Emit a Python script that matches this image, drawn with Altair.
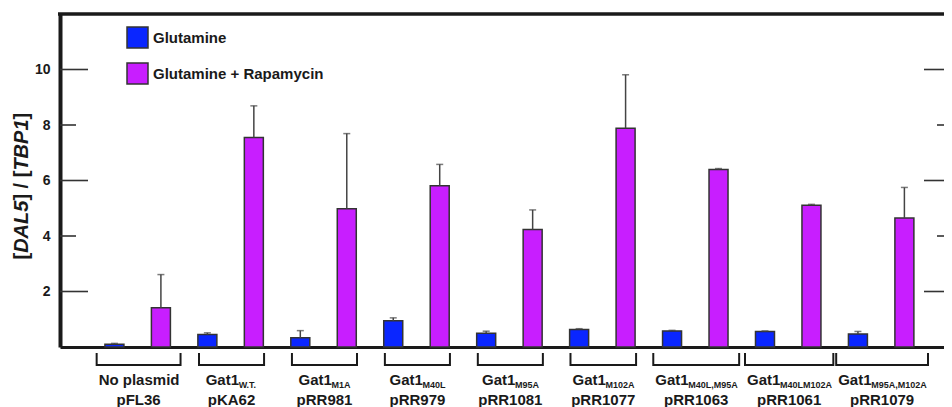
import altair as alt
import pandas as pd

# ---------------- data ----------------
label_main = ["No plasmid", "Gat1", "Gat1", "Gat1", "Gat1", "Gat1", "Gat1", "Gat1", "Gat1"]
label_sub = ["", "W.T.", "M1A", "M40L", "M95A", "M102A", "M40L,M95A", "M40LM102A", "M95A,M102A"]
plasmids = ["pFL36", "pKA62", "pRR981", "pRR979", "pRR1081", "pRR1077", "pRR1063", "pRR1061", "pRR1079"]
glutamine = [0.10, 0.45, 0.33, 0.95, 0.50, 0.63, 0.58, 0.56, 0.47]
glutamine_err = [0.03, 0.06, 0.26, 0.10, 0.07, 0.03, 0.02, 0.02, 0.09]
rapamycin = [1.41, 7.55, 4.98, 5.81, 4.23, 7.88, 6.40, 5.11, 4.65]
rapamycin_err = [1.20, 1.14, 2.71, 0.77, 0.71, 1.93, 0.03, 0.03, 1.10]
series = ["Glutamine", "Glutamine + Rapamycin"]
series_colors = ["#0A26FF", "#C81EFF"]
y_ticks_long = [2, 6, 10]
y_ticks_short = [4, 8]
y_tick_labels = [2, 4, 6, 8, 10]

# ---------------- layout ----------------
W, H = 884, 333
PX_PER_SLOT = 47.0
X0 = -50.0 / PX_PER_SLOT
X_DOMAIN = [X0, X0 + W / PX_PER_SLOT]
FONT = "Liberation Sans"
INK = "#1a1a1a"

# Arial / Liberation Sans bold advance widths (em)
AW = {" ": .278, ",": .278, ".": .278, "/": .278, "[": .333, "]": .333, "+": .584,
      "A": .722, "B": .722, "D": .722, "F": .611, "G": .778, "K": .722, "L": .611,
      "M": .833, "N": .722, "P": .667, "R": .722, "T": .611, "W": .944,
      "a": .556, "d": .611, "i": .278, "l": .278, "m": .889, "o": .611, "p": .611,
      "s": .556, "t": .333}


def text_w(s, size):
    return sum(AW.get(ch, .556) for ch in s) * size


# bars table
rows = []
for g in range(len(plasmids)):
    for c, (vals, errs) in enumerate([(glutamine, glutamine_err), (rapamycin, rapamycin_err)]):
        rows.append({"slot": 2 * g + c, "value": vals[g], "top": vals[g] + errs[g],
                     "series": series[c], "group": plasmids[g]})
bars_df = pd.DataFrame(rows)

# group label / bracket tables
main_rows, sub_rows, br_rows = [], [], []
for g in range(len(plasmids)):
    center = 2 * g + 0.52
    wm = text_w(label_main[g], 15)
    ws = text_w(label_sub[g], 9)
    total = wm + ws
    half = max(0.7, (total + 4) / 2 / PX_PER_SLOT)
    x_start = center - total / 2 / PX_PER_SLOT
    main_rows.append({"x": x_start, "text": label_main[g], "center": center, "plasmid": plasmids[g]})
    if label_sub[g]:
        sub_rows.append({"x": x_start + wm / PX_PER_SLOT, "text": label_sub[g]})
    br_rows.append({"lo": center - half, "hi": center + half})
main_df = pd.DataFrame(main_rows)
sub_df = pd.DataFrame(sub_rows)
br_df = pd.DataFrame(br_rows)

xscale = alt.Scale(domain=X_DOMAIN, nice=False, zero=False)
yscale = alt.Scale(domain=[0, 12], nice=False)

base = alt.Chart(bars_df)

bars = base.mark_bar(size=19, stroke="#333333", strokeWidth=1.5).encode(
    x=alt.X("slot:Q", scale=xscale,
            axis=alt.Axis(labels=False, ticks=False, grid=False, title=None,
                          domainColor=INK, domainWidth=3)),
    y=alt.Y("value:Q", scale=yscale,
            axis=alt.Axis(values=y_tick_labels, ticks=False, grid=False, title=None,
                          domainColor=INK, domainWidth=4, labelFont=FONT, labelFontSize=14,
                          labelFontWeight="bold", labelColor=INK, labelPadding=10)),
    color=alt.Color("series:N", scale=alt.Scale(domain=series, range=series_colors),
                    legend=alt.Legend(title=None, orient="none", legendX=66, legendY=12,
                                      symbolType="square", symbolSize=441,
                                      symbolStrokeColor="#333333", symbolStrokeWidth=1.5,
                                      labelFont=FONT, labelFontSize=15, labelFontWeight="bold",
                                      labelColor=INK, rowPadding=9, labelOffset=4,
                                      padding=0, labelLimit=400)),
)

stems = base.mark_rule(color="#444444", strokeWidth=1.5).encode(
    x="slot:Q", y="value:Q", y2="top:Q")
caps = base.mark_tick(orient="horizontal", size=7, thickness=1.5, color="#444444").encode(
    x="slot:Q", y="top:Q")

# top frame line (right frame lies outside the visible figure)
top_frame = alt.Chart(pd.DataFrame({"v": [12]})).mark_rule(color=INK, strokeWidth=3.5).encode(
    y="v:Q", x=alt.value(-2), x2=alt.value(W))

# inward ticks on left and right frame
ltl = alt.Chart(pd.DataFrame({"v": y_ticks_long})).mark_rule(color="#333333", strokeWidth=1.6).encode(
    y="v:Q", x=alt.value(0), x2=alt.value(28))
lts = alt.Chart(pd.DataFrame({"v": y_ticks_short})).mark_rule(color="#333333", strokeWidth=1.6).encode(
    y="v:Q", x=alt.value(0), x2=alt.value(16))
rtl = alt.Chart(pd.DataFrame({"v": y_ticks_long})).mark_rule(color="#333333", strokeWidth=1.6).encode(
    y="v:Q", x=alt.value(W - 20), x2=alt.value(W))
rts = alt.Chart(pd.DataFrame({"v": y_ticks_short})).mark_rule(color="#333333", strokeWidth=1.6).encode(
    y="v:Q", x=alt.value(W - 7), x2=alt.value(W))

# brackets
br = alt.Chart(br_df)
br_h = br.mark_rule(color=INK, strokeWidth=2).encode(
    x="lo:Q", x2="hi:Q", y=alt.value(H + 18))
br_l = br.mark_rule(color=INK, strokeWidth=2).encode(
    x="lo:Q", y=alt.value(H + 6), y2=alt.value(H + 19))
br_r = br.mark_rule(color=INK, strokeWidth=2).encode(
    x="hi:Q", y=alt.value(H + 6), y2=alt.value(H + 19))

lab_main = alt.Chart(main_df).mark_text(
    align="left", baseline="alphabetic", font=FONT, fontSize=15, fontWeight="bold", color=INK
).encode(x="x:Q", y=alt.value(H + 38), text="text:N")
lab_sub = alt.Chart(sub_df).mark_text(
    align="left", baseline="alphabetic", font=FONT, fontSize=9, fontWeight="bold", color=INK
).encode(x="x:Q", y=alt.value(H + 41), text="text:N")
lab_pl = alt.Chart(main_df).mark_text(
    align="center", baseline="alphabetic", font=FONT, fontSize=15, fontWeight="bold", color=INK
).encode(x="center:Q", y=alt.value(H + 58), text="plasmid:N")

# y title "[DAL5] / [TBP1]" with italic gene names, rotated
title_parts = [("[", "normal"), ("DAL5", "italic"), ("] / [", "normal"), ("TBP1", "italic"), ("]", "normal")]
TFS = 20
ty = 245.5
title_layers = []
for txt, style in title_parts:
    title_layers.append(
        alt.Chart(pd.DataFrame({"t": [txt]})).mark_text(
            angle=270, align="left", baseline="middle", font=FONT, fontSize=TFS,
            fontWeight="bold", fontStyle=style, color=INK
        ).encode(x=alt.value(-38.5), y=alt.value(ty), text="t:N")
    )
    ty -= text_w(txt, TFS)

chart = alt.layer(
    bars, stems, caps, top_frame, ltl, lts, rtl, rts, br_h, br_l, br_r, lab_main, lab_sub, lab_pl,
    *title_layers
).properties(
    width=W, height=H,
    autosize=alt.AutoSizeParams(type="none"),
    padding={"left": 52, "top": 6, "right": 0, "bottom": 60},
).configure_view(
    strokeWidth=0
).configure(background="white")

chart.save("out.html", embed_options={"renderer": "svg", "actions": False})
